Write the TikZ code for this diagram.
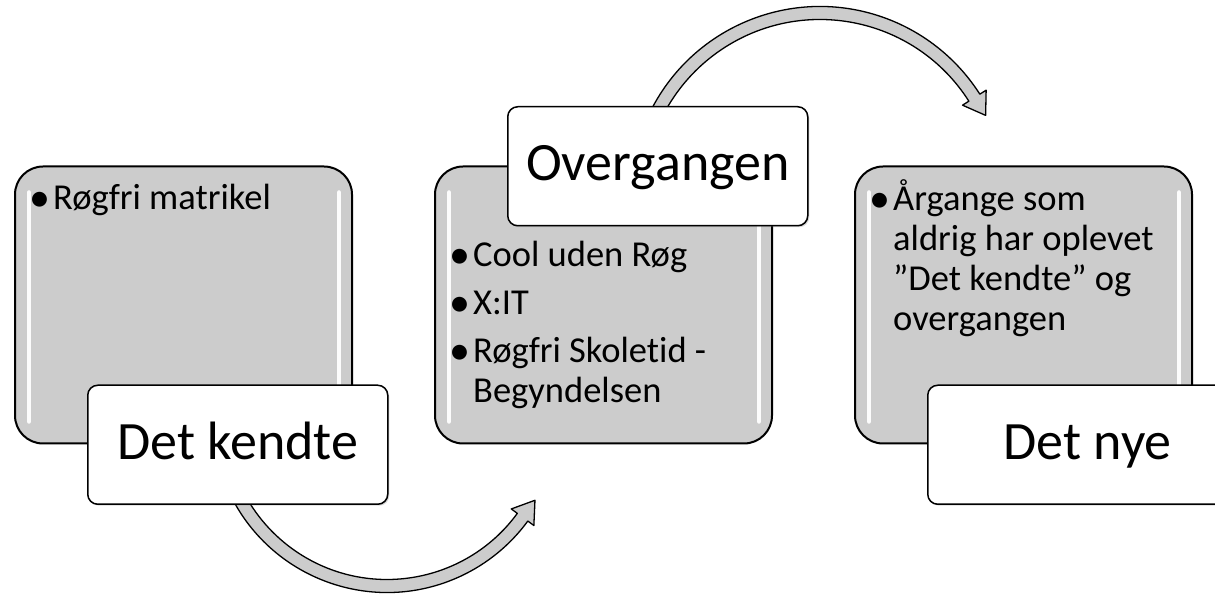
\documentclass[tikz,border=0pt]{standalone}
\usepackage{fontspec}
\setmainfont{Carlito}[Ligatures={TeX,NoCommon}]
\usetikzlibrary{positioning,calc,shadows}

\newcommand\listfont{\fontsize{36.5}{40}\selectfont\spaceskip=0pt\xspaceskip=0pt\setlength{\parskip}{8pt}}
\newcommand\bitem[1]{\hangindent=24pt\hangafter=1\makebox[24pt][l]{\raisebox{-2.5pt}{\fontsize{42}{42}\selectfont\textbullet}}#1\par}

\begin{document}
\begin{tikzpicture}[
    x=1pt, y=1pt,
    panel/.style={rectangle, draw=black, line width=2pt, rounded corners=28pt, fill=gray!40, minimum width=337pt, minimum height=277pt},
    tag/.style={rectangle, draw=black, line width=1.5pt, rounded corners=10pt, fill=white, minimum width=300pt, minimum height=119pt, text height=40pt, text depth=11pt, font=\fontsize{54}{60}\selectfont, drop shadow={shadow xshift=1.5pt, shadow yshift=-1.5pt, opacity=0.3}},
    items/.style={anchor=base west, inner sep=0pt, text width=320pt, align=left, font=\listfont},
    gloss/.style={white, line width=4.5pt, line cap=round, opacity=0.95},
    flow/.style={draw=black, line width=1.3pt, fill=gray!40, line join=round}
]
    \useasboundingbox (0,0) rectangle (1215,594);

    % Panels
    \node[panel] (known) at (183.5,289) {};
    \node[panel, right=81pt of known] (trans) {};
    \node[panel, right=81pt of trans] (new) {};

    % Highlights
    \foreach \p in {known,trans,new} {
        \draw[gloss] ([shift={(15pt,-27pt)}]\p.north west) -- ([shift={(15pt,23pt)}]\p.south west);
        \draw[gloss] ([shift={(-14pt,-27pt)}]\p.north east) -- ([shift={(-14pt,23pt)}]\p.south east);
    }

    % Bullet text
    \node[items] (knowntxt) at ([shift={(15pt,-44pt)}]known.north west) {\listfont\bitem{Røgfri matrikel}};
    \node[items] (transtxt) at ([shift={(15pt,-101pt)}]trans.north west) {\listfont\bitem{Cool uden Røg}\bitem{X:IT}\bitem{Røgfri Skoletid -\newline Begyndelsen}};
    \node[items] (newtxt) at ([shift={(15pt,-45pt)}]new.north west) {\listfont\bitem{Årgange som\newline aldrig har oplevet\newline ”Det kendte” og\newline overgangen}};

    % Arrows
    \coordinate (down) at (387,176);
    \coordinate (up) at (820,398);
    \filldraw[flow] ($(down)+(205:174.5pt)$) arc[start angle=205, end angle=323.8, radius=174.5pt]
        -- ($(down)+(323.8:182pt)$) -- ($(down)+(323.8:168pt)+(53.8:21pt)$)
        -- ($(down)+(323.8:154pt)$) -- ($(down)+(323.8:161.5pt)$)
        arc[start angle=323.8, end angle=205, radius=161.5pt] -- cycle;
    \filldraw[flow] ($(up)+(158:189.5pt)$) arc[start angle=158, end angle=32.5, radius=189.5pt]
        -- ($(up)+(32.5:197pt)$) -- ($(up)+(32.5:183pt)+(-57.5:21pt)$)
        -- ($(up)+(32.5:169pt)$) -- ($(up)+(32.5:176.5pt)$)
        arc[start angle=32.5, end angle=158, radius=176.5pt] -- cycle;

    % Labels
    \node[tag, anchor=north west] (kendte) at ([shift={(73pt,60pt)}]known.south west) {Det kendte};
    \node[tag, anchor=south west] (overgang) at ([shift={(73pt,-61pt)}]trans.north west) {Overgangen};
    \node[tag, anchor=north west, minimum width=320pt] (nye) at ([shift={(73pt,60pt)}]new.south west) {Det nye};
\end{tikzpicture}
\end{document}
